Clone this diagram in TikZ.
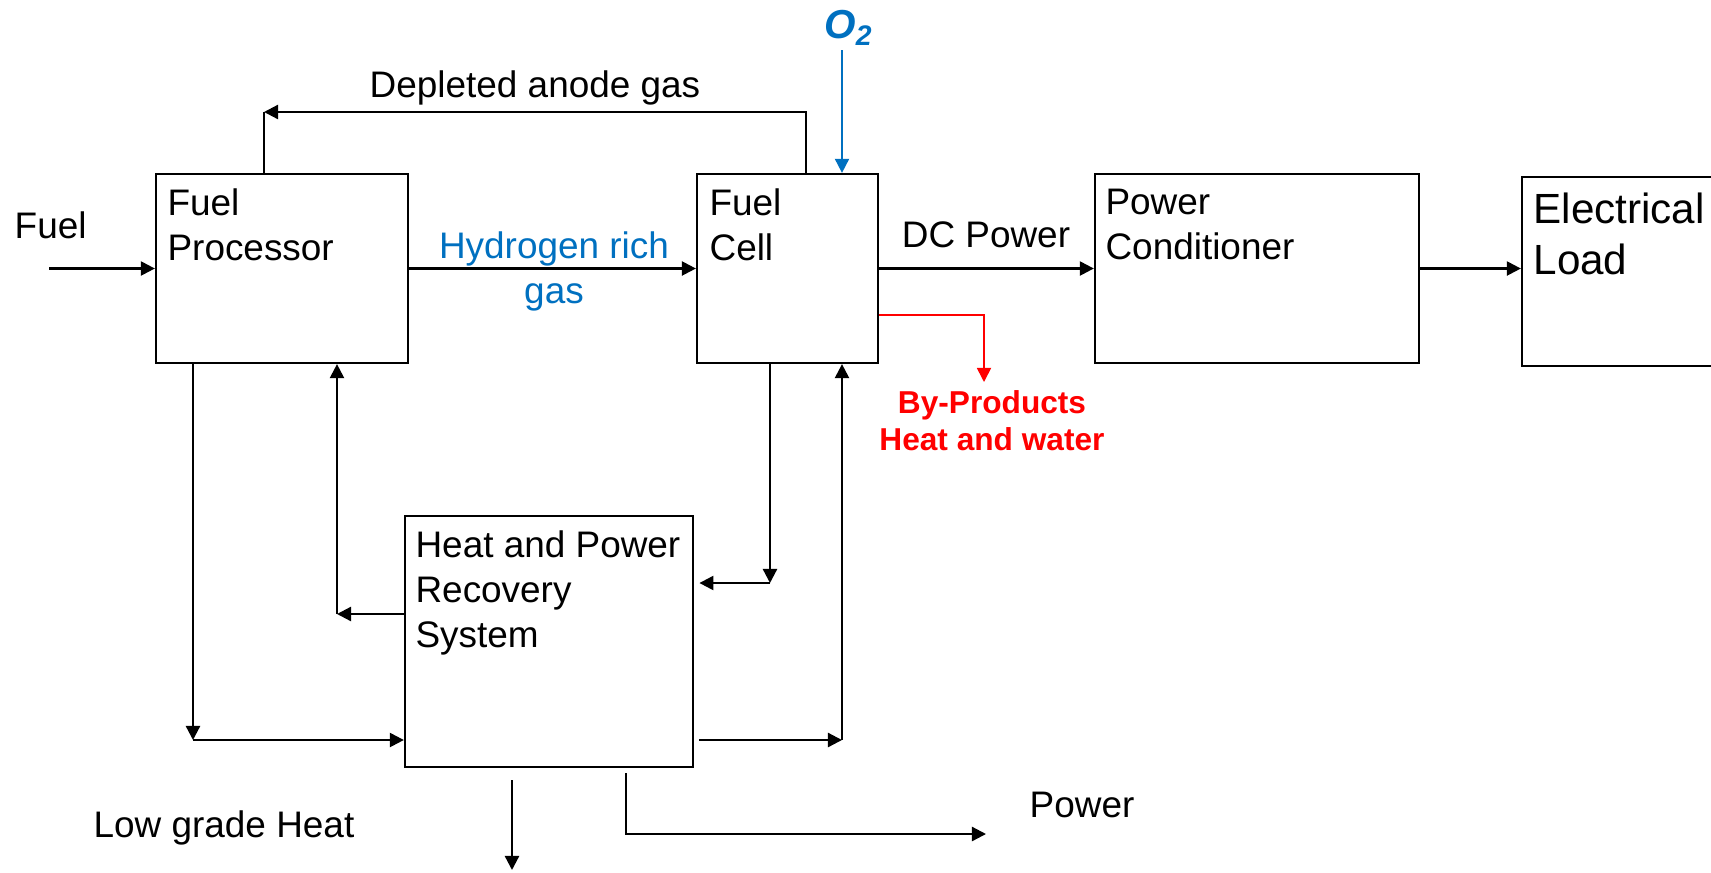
\documentclass[tikz,border=0pt]{standalone}
\usepackage{fontspec}
\setmainfont{Liberation Sans}
\usetikzlibrary{arrows.meta,calc}
\definecolor{flowblue}{RGB}{0,112,192}

\begin{document}
\begin{tikzpicture}[x=0.01cm,y=-0.01cm,
  block/.style={draw,line width=0.6pt,inner sep=0pt},
  blocktext/.style={anchor=north west,align=left,inner sep=0pt,font=\fontsize{10.5}{12.8}\selectfont},
  lbl/.style={inner sep=0pt,font=\fontsize{10.5}{12.8}\selectfont},
  arr/.style={line width=0.65pt,-{Triangle[length=4pt,width=4pt]}},
  line/.style={line width=0.65pt}]
  \useasboundingbox (0,0) rectangle (1711,872);
  \clip (0,0) rectangle (1711,872);

  % Boxes
  \node[block,minimum width=2.52cm,minimum height=1.89cm] (fp) at (282,268.5) {};
  \node[block,minimum width=1.81cm,minimum height=1.89cm] (fc) at (787.5,268.5) {};
  \node[block,minimum width=3.24cm,minimum height=1.89cm] (pc) at (1257,268.5) {};
  \node[block,minimum width=2.4cm,minimum height=1.89cm] (el) at (1642,271.5) {};
  \node[block,minimum width=2.88cm,minimum height=2.51cm] (hpr) at (549,641.5) {};

  % Box texts
  \node[blocktext] (fpt) at ($(fp.north west)+(12,15)$) {Fuel\\Processor};
  \node[blocktext] (fct) at ($(fc.north west)+(13,15)$) {Fuel\\Cell};
  \node[blocktext] (pct) at ($(pc.north west)+(11,15)$) {Power\\Conditioner};
  \node[blocktext] (hprt) at ($(hpr.north west)+(11,15)$) {Heat and Power\\Recovery\\System};
  \node[blocktext,font=\fontsize{12}{14.5}\selectfont] (elt) at ($(el.north west)+(12,16)$) {Electrical\\Load};

  % Main flow
  \coordinate (fuelin) at (49,268.5);
  \draw[arr] (fuelin) -- (fuelin -| fp.west);
  \draw[arr] (fp.east) -- (fc.west);
  \draw[arr] (fc.east) -- (pc.west);
  \draw[arr] (pc.east) -- (pc.east -| el.west);

  % Depleted anode gas loop
  \coordinate (depR) at (806,112);
  \coordinate (depL) at (264,112);
  \draw[arr] (depR |- fc.north) -- (depR) -- (depL);
  \draw[line] (depL) -- (depL |- fp.north);

  % Oxygen feed
  \node[inner sep=0pt,text=flowblue,font=\fontsize{11.5}{13}\selectfont\bfseries\itshape] (o2) at (849,28) {O\textsubscript{2}};
  \coordinate (o2in) at (842,50);
  \draw[arr,flowblue,line width=0.5pt] (o2in) -- (o2in |- fc.north);

  % By-products
  \coordinate (bpc) at (984,315);
  \coordinate (bpend) at (984,382);
  \draw[arr,red,line width=0.45pt] (fc.east |- bpc) -- (bpc) -- (bpend);

  % Recovery loops
  \coordinate (lc) at (193,740);
  \draw[arr] (fp.south -| lc) -- (lc);
  \draw[arr] (lc) -- (lc -| hpr.west);
  \coordinate (lu) at (337,614);
  \draw[arr] (lu -| hpr.west) -- (lu);
  \draw[arr] (lu) -- (lu |- fp.south);
  \coordinate (rd) at (770,583);
  \draw[arr] (fc.south -| rd) -- (rd);
  \draw[arr,shorten >=1.5pt] (rd) -- (rd -| hpr.east);
  \coordinate (ru) at (842,740);
  \draw[arr,shorten <=1.5pt] (ru -| hpr.east) -- (ru);
  \draw[arr] (ru) -- (ru |- fc.south);

  % Outputs
  \coordinate (lhtop) at (512,780);
  \coordinate (lhend) at (512,870);
  \draw[arr] (lhtop) -- (lhend);
  \coordinate (pw) at (626,834);
  \coordinate (pwend) at (986,834);
  \draw[arr,shorten <=1.4pt] (hpr.south -| pw) -- (pw) -- (pwend);

  % Labels
  \node[lbl,anchor=base west] (fuell) at (14,238) {Fuel};
  \node[lbl,anchor=base] (depl) at (535,97) {Depleted anode gas};
  \node[lbl,text=flowblue,align=center,anchor=north] (h2l) at (554,231) {Hydrogen rich\\gas};
  \node[lbl,anchor=base] (dcl) at (986,247) {DC Power};
  \node[lbl,text=red,font=\fontsize{9}{10.4}\selectfont\bfseries,align=center,anchor=north] (bpl) at (992,390) {By-Products\\Heat and water};
  \node[lbl,anchor=base] (lgh) at (224,837) {Low grade Heat};
  \node[lbl,anchor=base west] (pwl) at (1029,817) {Power};

\end{tikzpicture}
\end{document}
